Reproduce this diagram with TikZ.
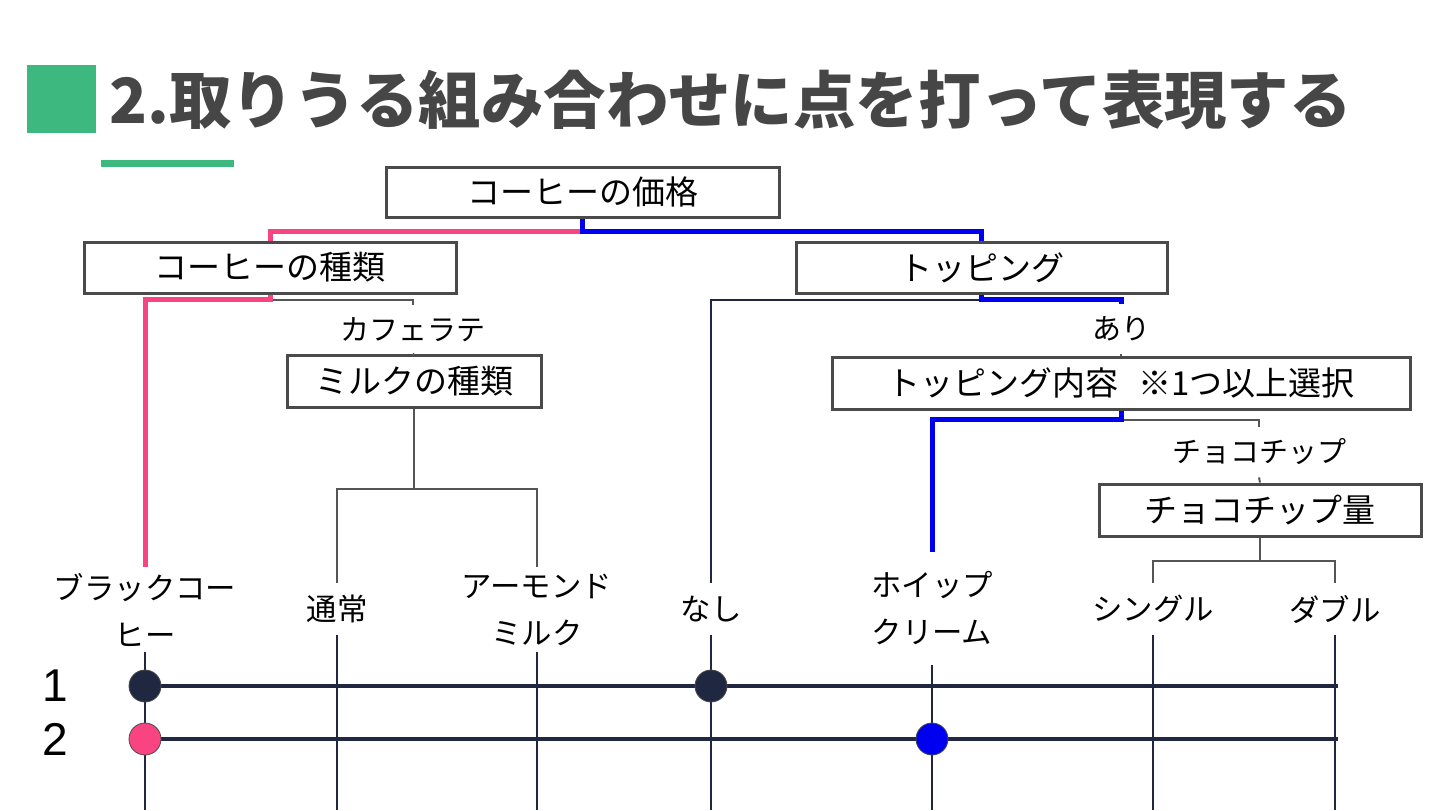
\documentclass[tikz,border=0pt]{standalone}
\usepackage{fontspec}
\setmainfont{Noto Sans CJK JP}
\newfontfamily\latinfont{Liberation Sans}
\usepackage{tikz}
\definecolor{titlegreen}{HTML}{3DB87F}
\definecolor{titlegray}{HTML}{464646}
\definecolor{boxgray}{HTML}{4A4A4A}
\definecolor{linegray}{HTML}{555555}
\definecolor{navy}{HTML}{1F2840}
\definecolor{pinkline}{HTML}{F94482}
\definecolor{blueline}{HTML}{0000F0}
\tikzset{
  itembox/.style={draw=boxgray, line width=1.5pt, inner sep=0pt,
    font=\fontsize{16.5}{20}\selectfont},
  choice/.style={align=center, inner sep=0pt, minimum height=26pt,
    font=\fontsize{15.2}{23.5}\selectfont},
  branch/.style={inner sep=0pt, minimum height=25pt,
    font=\fontsize{14.5}{18}\selectfont},
  grayline/.style={draw=linegray, line width=1pt},
  navyline/.style={draw=navy, line width=1pt},
  rowline/.style={draw=navy, line width=1.6pt},
  pinkpath/.style={draw=pinkline, line width=2.5pt},
  bluepath/.style={draw=blueline, line width=2.5pt},
  dot/.style={circle, draw=boxgray, line width=0.4pt, minimum size=16pt, inner sep=0pt}
}

\begin{document}
\begin{tikzpicture}[x=0.5pt,y=-0.5pt]
\useasboundingbox (0,0) rectangle (1440,810);

% title
\fill[titlegreen] (27,65) rectangle (96,133);
\node[anchor=west, inner sep=0pt, text=titlegray, font=\fontsize{31.2}{36}\selectfont\bfseries]
  (title) at (109,100) {2.取りうる組み合わせに点を打って表現する};
\fill[titlegreen] (101,160) rectangle (234,167);

% boxes
\node[itembox, minimum width=196.5pt, minimum height=25pt] (price) at (582.5,192) {コーヒーの価格};
\node[itembox, minimum width=186pt, minimum height=25.5pt] (ctype) at (270,267.5) {コーヒーの種類};
\node[itembox, minimum width=185.5pt, minimum height=25.5pt] (topping) at (981.5,267.5) {トッピング};
\node[itembox, minimum width=127pt, minimum height=26pt] (milk) at (414,381) {ミルクの種類};
\node[itembox, minimum width=289pt, minimum height=26pt] (tcontent) at (1121,383) {トッピング内容\hspace{0.6em}※1つ以上選択};
\node[itembox, minimum width=161pt, minimum height=26pt] (camount) at (1260,510) {チョコチップ量};

% branch labels
\node[branch] (latte) at (413,330) {カフェラテ};
\node[branch] (ari) at (1121,329) {あり};
\node[branch] (choco) at (1259,452) {チョコチップ};

% choices
\node[choice, minimum height=42.5pt] (black) at (145,609.5) {ブラックコー\\ヒー};
\node[choice] (normal) at (337,609) {通常};
\node[choice, minimum height=42.5pt] (almond) at (537,609.5) {アーモンド\\ミルク};
\node[choice] (nashi) at (711,609) {なし};
\node[choice, minimum height=56.5pt] (whip) at (932,608.5) {ホイップ\\クリーム};
\node[choice] (single) at (1153,609) {シングル};
\node[choice] (double) at (1335,609) {ダブル};

% tree connectors
\draw[grayline] (ctype.south) -- ++(0,5) -| (latte.north);
\draw[grayline] (latte.south) -- (milk.north);
\draw[grayline] (milk.south) -- ++(0,80) -| (normal.north);
\draw[grayline] (milk.south) -- ++(0,80) -| (almond.north);
\draw[navyline] (topping.south) -- ++(0,5) -| (nashi.north);
\draw[grayline] (ari.south) -- (tcontent.north);
\draw[grayline] (tcontent.south) -- ++(0,9) -| (choco.north);
\draw[grayline] (choco.south) -- (camount.north);
\draw[grayline] (camount.south) -- ++(0,23) -| (single.north);
\draw[grayline] (camount.south) -- ++(0,23) -| (double.north);
\draw[pinkpath] (price.south) -- ++(0,13) -| (ctype.north);
\draw[bluepath] (price.south) -- ++(0,13) -| (topping.north);
\draw[pinkpath] (ctype.south) -- ++(0,5) -| (black.north);
\draw[bluepath] (topping.south) -- ++(0,5) -| (ari.north);
\draw[bluepath] (tcontent.south) -- ++(0,9) -| (whip.north);

% grid
\coordinate (floor) at (0,810);
\coordinate (row1) at (0,686);
\coordinate (row2) at (0,739);
\foreach \c in {black,normal,almond,nashi,whip,single,double}
  \draw[navyline] (\c.south) -- (\c.south |- floor);
\draw[rowline] (black.south |- row1) -- ([xshift=1.5pt]double.south |- row1);
\draw[rowline] (black.south |- row2) -- ([xshift=1.5pt]double.south |- row2);
\node[font=\latinfont\fontsize{23}{26}\selectfont] (n1) at (55,686) {1};
\node[font=\latinfont\fontsize{23}{26}\selectfont] (n2) at (55,739) {2};
\node[dot, fill=navy] (d11) at (black.south |- row1) {};
\node[dot, fill=navy] (d12) at (nashi.south |- row1) {};
\node[dot, fill=pinkline] (d21) at (black.south |- row2) {};
\node[dot, fill=blueline] (d22) at (whip.south |- row2) {};
\end{tikzpicture}
\end{document}
